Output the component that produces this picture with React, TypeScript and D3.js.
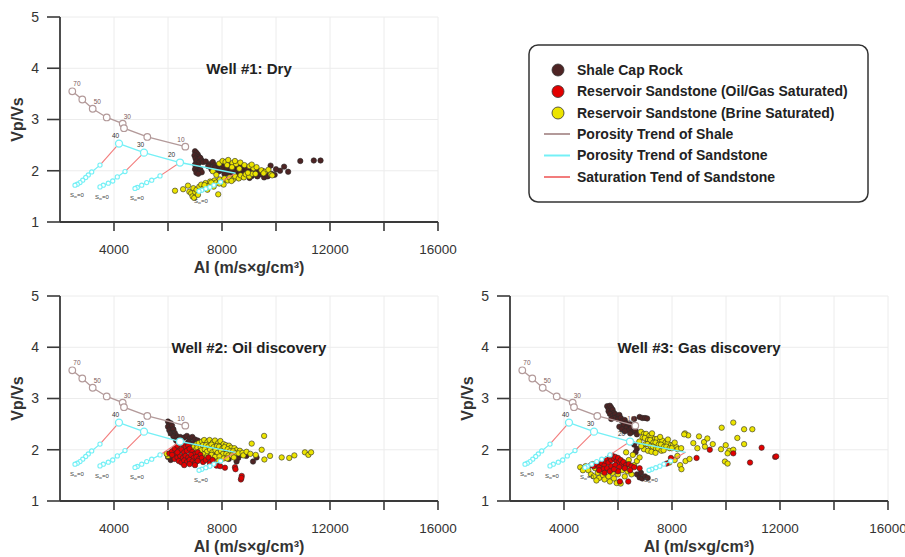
import React from 'react';
import * as d3 from 'd3';

type Pt = [number, number];

// ---- axes ----
const xTicks = [4000, 6000, 8000, 10000, 12000, 14000, 16000];
const xTickLabels = [4000, 8000, 12000, 16000];
const yTicks = [1, 2, 3, 4, 5];

// ---- rock physics templates (same on all wells) ----
const shaleTrend: Pt[] = [
	[2455, 3.55], [2826, 3.39], [3211, 3.21], [3730, 3.04],
	[4322, 2.92], [4370, 2.83], [5233, 2.66], [6641, 2.47],
];
const shaleTrendLabels = [
	{ i: 0, text: '70' }, { i: 2, text: '50' }, { i: 4, text: '30' }, { i: 7, text: '10' },
];
const sandPorosity = ['40', '30', '20', '10'];
const sandTrend: Pt[] = [[4185, 2.53], [5111, 2.353], [6444, 2.16], [8500, 1.95]];
const satTrends: Pt[][] = [
	[[4185, 2.53], [3481, 2.11], [3174, 1.977], [3048, 1.918], [2952, 1.868], [2841, 1.816], [2741, 1.77], [2641, 1.738], [2556, 1.718]],
	[[5111, 2.353], [4407, 1.984], [4122, 1.88], [3952, 1.8], [3789, 1.757], [3604, 1.718], [3481, 1.685]],
	[[6444, 2.16], [5704, 1.9], [5396, 1.816], [5211, 1.77], [5026, 1.718], [4863, 1.674], [4778, 1.655]],
	[[8500, 1.95], [7950, 1.78], [7700, 1.72], [7550, 1.68], [7400, 1.65], [7250, 1.62], [7150, 1.6]],
];

// ---- well #1 ----
const w1Shale: Pt[] = [
	[7000, 2.38], [7050, 2.35], [7100, 2.32], [6980, 2.3], [7080, 2.28], [7150, 2.27], [7020, 2.24], [7100, 2.22],
	[7200, 2.25], [7050, 2.18], [7150, 2.16], [7250, 2.2], [7300, 2.17], [7000, 2.12], [7100, 2.1],
	[7000, 2.03], [7080, 2.0], [7150, 1.98], [7050, 1.96], [7200, 2.02], [7250, 1.97], [7120, 1.94],
	[7400, 2.18], [7540, 2.13], [7660, 2.17], [7740, 2.11], [7860, 2.09], [7940, 2.14], [8060, 2.07], [8110, 2.16],
	[8190, 2.04], [8310, 2.11], [8340, 2.01], [8460, 2.07], [8520, 1.98], [8590, 2.05], [8660, 1.96], [8740, 2.02],
	[8810, 1.94], [8890, 2.0], [8960, 1.92], [9040, 1.98], [9110, 1.9], [9190, 1.96], [9310, 1.89], [9360, 1.98],
	[9440, 1.93], [9560, 1.87], [8010, 2.01], [8160, 1.98], [8240, 1.95], [8410, 1.93], [8560, 1.91], [8710, 1.89],
	[7810, 2.04], [7890, 1.99], [7710, 2.06], [8860, 2.07], [9010, 2.04], [9140, 2.01], [9260, 2.03], [9410, 1.98],
	[9610, 1.96], [9690, 1.89], [9800, 2.1], [9840, 1.94], [9950, 1.92], [10150, 2.0], [10300, 2.08], [10450, 1.98],
	[10900, 2.19], [11400, 2.2], [11650, 2.2], [8090, 1.94], [8310, 1.88], [8620, 1.86], [9020, 1.86], [8440, 2.12],
	[8690, 2.1], [8910, 2.05], [7610, 2.03], [7490, 2.09], [9520, 1.99], [10000, 2.03],
];
const w1Oil: Pt[] = [];
const w1Brine: Pt[] = [
	[6260, 1.61], [6560, 1.64], [6740, 1.71], [6790, 1.59], [6860, 1.56], [6910, 1.5], [6940, 1.66], [7010, 1.58],
	[7060, 1.63], [6970, 1.47], [7110, 1.53], [7160, 1.69], [7230, 1.73], [7320, 1.66], [7390, 1.76], [7520, 1.71],
	[7560, 1.79], [7640, 1.74], [7720, 1.81], [7790, 1.77], [7860, 1.54], [7920, 1.83], [8010, 1.79], [8090, 1.85],
	[8210, 1.81], [8280, 1.87], [8410, 1.83], [8490, 1.89], [8620, 1.85], [8690, 1.91], [8810, 1.87], [8880, 1.93],
	[9010, 1.89], [9120, 1.94], [7460, 1.63], [7690, 1.69], [8060, 1.73], [7350, 1.72], [7600, 1.77], [7900, 1.75],
	[8350, 1.8],
	[7900, 2.14], [8020, 2.19], [8130, 2.17], [8230, 2.21], [8390, 2.15], [8520, 2.13], [8680, 2.16], [8830, 2.11],
	[9020, 2.09], [9170, 2.05], [9280, 2.07], [9460, 2.01], [9590, 1.98], [9720, 2.02], [9810, 1.93], [8190, 2.11],
	[8370, 2.07], [8640, 2.04], [8960, 1.96], [9240, 1.94], [9540, 1.95], [9860, 1.91], [7660, 1.99], [7790, 1.92],
	[8480, 2.19], [9100, 2.12],
];

// ---- well #2 ----
const w2Shale: Pt[] = [
	[6000, 2.55], [6050, 2.5], [6100, 2.52], [6000, 2.45], [6080, 2.42], [6150, 2.47], [6050, 2.38], [6150, 2.36],
	[6200, 2.4], [6100, 2.32], [6250, 2.33], [6300, 2.28], [6200, 2.26], [6350, 2.24], [6400, 2.2], [6300, 2.18],
	[6450, 2.25], [6600, 2.24], [6700, 2.27], [6800, 2.22], [6900, 2.25], [7000, 2.2], [7100, 2.18], [6750, 2.15],
	[6900, 2.13], [7050, 2.1], [7200, 2.12], [7300, 2.08], [6650, 2.1], [7500, 2.02], [7800, 1.98], [8100, 1.95],
	[8400, 1.93], [8600, 1.84], [8700, 1.9], [8900, 1.88], [9150, 1.77], [9280, 1.85], [8540, 1.77], [6000, 1.86],
	[6100, 1.8], [7400, 1.88], [8000, 1.85], [8250, 1.82], [7700, 1.9],
];
const w2Oil: Pt[] = [
	[6050, 1.93], [6150, 1.97], [6250, 2.02], [6350, 2.08], [6450, 2.12], [6550, 2.1], [6650, 2.05], [6750, 2.08],
	[6200, 1.88], [6300, 1.92], [6400, 1.98], [6500, 2.0], [6600, 1.95], [6700, 1.98], [6800, 2.02], [6900, 1.96],
	[7000, 1.92], [7100, 1.95], [7200, 1.9], [6250, 1.82], [6350, 1.85], [6450, 1.88], [6550, 1.84], [6650, 1.88],
	[6750, 1.85], [6850, 1.9], [6950, 1.84], [7050, 1.86], [7150, 1.82], [7250, 1.84], [6400, 1.78], [6500, 1.75],
	[6600, 1.79], [6700, 1.76], [6800, 1.8], [6900, 1.77], [7000, 1.74], [7100, 1.78], [7300, 1.76], [7400, 1.8],
	[6600, 1.7], [6800, 1.72], [7000, 1.7], [7550, 1.74], [7800, 1.69], [7930, 1.68], [8110, 1.65], [8480, 1.66],
	[8500, 1.62], [8730, 1.49], [8700, 1.42], [8720, 1.45], [6150, 1.9], [6350, 1.95], [7500, 1.85], [7650, 1.8],
];
const w2Brine: Pt[] = [
	[6950, 2.05], [7060, 2.11], [7140, 2.13], [7260, 2.16], [7340, 2.19], [7460, 2.15], [7540, 2.19], [7660, 2.14],
	[7740, 2.18], [7860, 2.13], [7940, 2.17], [8060, 2.11], [8140, 2.09], [8260, 2.08], [8340, 2.04], [8460, 2.03],
	[8540, 1.99], [8660, 1.98], [7010, 1.99], [7090, 2.04], [7210, 2.05], [7290, 2.09], [7410, 2.09], [7490, 2.06],
	[7610, 2.1], [7690, 2.05], [7810, 2.07], [7890, 2.06], [8010, 2.02], [8090, 2.05], [8210, 2.01], [8290, 1.97],
	[8410, 1.97], [8490, 1.93], [8610, 1.93], [8760, 1.94], [7160, 1.96], [7240, 1.99], [7360, 2.01], [7440, 1.96],
	[7560, 2.0], [7640, 1.95], [7760, 1.99], [7840, 1.94], [7960, 1.98], [8040, 1.92], [8160, 1.92], [8240, 1.89],
	[8360, 1.89], [8440, 1.85], [7310, 1.91], [7440, 1.87], [7610, 1.9], [7740, 1.86], [7910, 1.87], [8060, 1.83],
	[8190, 1.83], [7410, 1.83], [7660, 1.79], [7890, 1.79], [8790, 1.89], [8910, 1.96],
	[9100, 2.12], [9560, 2.27], [9470, 2.0], [9780, 1.88], [9570, 1.81], [10210, 1.85], [10490, 1.84], [10680, 1.89],
	[11070, 1.95], [11200, 1.9], [11300, 1.95], [9050, 1.92], [9250, 1.9], [6000, 1.88], [5950, 1.92],
];

// ---- well #3 ----
const w3Shale: Pt[] = [
	[5600, 2.85], [5650, 2.8], [5700, 2.86], [5750, 2.82], [5650, 2.75], [5750, 2.74], [5800, 2.78], [5850, 2.72],
	[5700, 2.7], [5800, 2.66], [5900, 2.69], [5950, 2.64], [5850, 2.62], [6000, 2.6], [5750, 2.6], [6050, 2.68],
	[6100, 2.62], [6150, 2.56], [6250, 2.58], [6300, 2.52], [6200, 2.48], [6350, 2.46], [6450, 2.5], [6300, 2.42],
	[6400, 2.38], [6500, 2.42], [6550, 2.35], [6600, 2.45], [6450, 2.32], [6650, 2.38], [6700, 2.3], [6050, 2.45],
	[6150, 2.4], [6250, 2.36], [6800, 2.64], [6900, 2.62], [7000, 2.62], [7080, 2.61], [6600, 2.6],
	[6700, 1.52], [6800, 1.46], [6900, 1.44], [7000, 1.48], [7100, 1.45], [6850, 1.55],
	[6600, 2.1], [6700, 2.02], [6650, 1.95],
];
const w3Gas: Pt[] = [
	[5000, 1.7], [5100, 1.68], [5200, 1.72], [5300, 1.66], [5400, 1.74], [5500, 1.7], [5550, 1.78], [5600, 1.82],
	[5650, 1.75], [5700, 1.86], [5750, 1.8], [5800, 1.88], [5850, 1.83], [5900, 1.86], [5950, 1.78], [6000, 1.84],
	[6050, 1.76], [6100, 1.8], [6150, 1.72], [6200, 1.76], [6300, 1.7], [6400, 1.72], [6500, 1.68], [6600, 1.66],
	[5450, 1.62], [5600, 1.64], [5750, 1.68], [5900, 1.7], [6050, 1.66], [6250, 1.64], [5300, 1.6], [5700, 1.58],
	[6000, 1.58], [5500, 1.55], [5850, 1.62], [6450, 1.6], [6800, 1.64],
	[6070, 1.38], [6380, 1.38], [7800, 1.73], [7960, 1.84], [8910, 1.84], [9400, 2.0], [10270, 1.93], [10890, 1.75],
	[11320, 2.04], [11820, 1.86], [11860, 1.87],
];
const w3Brine: Pt[] = [
	[6850, 2.35], [6960, 2.31], [7040, 2.31], [7160, 2.27], [7240, 2.26], [7360, 2.21], [7440, 2.21], [7560, 2.17],
	[7640, 2.18], [7760, 2.14], [7840, 2.13], [7960, 2.09], [8040, 2.09], [8160, 2.05], [6910, 2.24], [6990, 2.23],
	[7110, 2.19], [7190, 2.19], [7310, 2.14], [7390, 2.14], [7510, 2.1], [7590, 2.1], [7710, 2.06], [7790, 2.06],
	[7910, 2.03], [7990, 2.03], [8210, 2.01], [7010, 2.11], [7090, 2.11], [7210, 2.07], [7290, 2.06], [7410, 2.02],
	[7490, 2.02], [7610, 1.98], [7690, 1.99], [6960, 2.01], [7110, 1.98], [7240, 1.96], [7390, 1.94], [6790, 2.16],
	[6860, 2.07], [8340, 2.03], [8480, 2.32], [8600, 2.28], [7560, 2.25], [7260, 2.32], [7850, 2.2], [8100, 2.14],
	[4600, 1.66], [4800, 1.68], [4900, 1.6], [5000, 1.52], [5100, 1.48], [5150, 1.64], [5250, 1.55], [5300, 1.45],
	[5400, 1.58], [5450, 1.5], [5500, 1.42], [5600, 1.62], [5650, 1.48], [5700, 1.38], [5800, 1.55], [5850, 1.44],
	[5950, 1.35], [6000, 1.52], [6100, 1.34], [6150, 1.6], [6250, 1.48], [6350, 1.58], [6450, 1.65], [6500, 1.52],
	[6600, 1.7], [6700, 1.78], [6800, 1.85], [6400, 1.8], [6250, 1.72], [5350, 1.7], [5050, 1.72], [4700, 1.6],
	[5200, 1.4], [6550, 1.9], [6300, 1.95],
	[7900, 1.75], [8100, 1.8], [8300, 1.7], [8500, 1.78], [8650, 1.82], [8350, 1.62], [8200, 1.88],
	[8790, 2.13], [9000, 2.26], [9185, 2.15], [9310, 2.22], [9510, 2.11], [8940, 2.03], [9220, 2.06], [9815, 2.01],
	[9990, 2.09], [10120, 1.98], [10060, 1.93], [10270, 2.0], [9960, 1.77], [10060, 1.73], [9840, 2.43], [10270, 2.53],
	[10670, 2.4], [10975, 2.4], [10420, 2.23], [10670, 2.11], [8450, 2.3],
];

const C = {
	shale: '#4e2424',
	oil: '#e30000',
	brine: '#ece400',
	shaleLine: '#b39a9a',
	sandLine: '#74f0f6',
	satLine: '#f27c7c',
	axis: '#3a3a3a',
	grid: '#ececec',
};
const FONT = '"Liberation Sans", Arial, sans-serif';

type PanelProps = {
	x0: number; y0: number; title: string;
	shale: Pt[]; oil: Pt[]; brine: Pt[];
};

const Panel = ({ x0, y0, title, shale, oil, brine }: PanelProps) => {
	const x = d3.scaleLinear().domain([2000, 16000]).range([x0, x0 + 378]);
	const y = d3.scaleLinear().domain([1, 5]).range([y0 + 205, y0]);
	const line = d3.line<Pt>().x((d) => x(d[0])).y((d) => y(d[1]));
	const dots = (pts: Pt[], fill: string, key: string) => pts.map((d, i) => (
		<circle key={ key + i } cx={ x(d[0]) } cy={ y(d[1]) } r={ 2.7 } fill={ fill } stroke="#2a2a2a" strokeWidth={ 0.6 }/>
	));
	const last = (a: Pt[]) => a[a.length - 1];

	return (
		<g>
			{ xTicks.map((t) => <line key={ 'gx' + t } x1={ x(t) } x2={ x(t) } y1={ y(1) } y2={ y(5) } stroke={ C.grid }/>) }
			{ yTicks.slice(1).map((t) => <line key={ 'gy' + t } x1={ x(2000) } x2={ x(16000) } y1={ y(t) } y2={ y(t) } stroke={ C.grid }/>) }

			{ dots(shale, C.shale, 's') }
			{ dots(brine, C.brine, 'b') }
			{ dots(oil, C.oil, 'o') }

			{/* shale porosity trend */}
			<path d={ line(shaleTrend) ?? '' } fill="none" stroke={ C.shaleLine } strokeWidth={ 1.3 }/>
			{ shaleTrend.map((d, i) => <circle key={ 'st' + i } cx={ x(d[0]) } cy={ y(d[1]) } r={ 3.3 } fill="white" stroke={ C.shaleLine } strokeWidth={ 1.2 }/>) }
			{ shaleTrendLabels.map((l) => (
				<text key={ 'sl' + l.i } x={ x(shaleTrend[l.i][0]) + (l.i === 7 ? -8 : 1) } y={ y(shaleTrend[l.i][1]) - 5 }
					fontSize={ 6.5 } fill="#7a5a5a" fontFamily={ FONT }>{ l.text }</text>
			)) }

			{/* sandstone saturation trends */}
			{ satTrends.map((tr, k) => (
				<g key={ 'sat' + k }>
					<path d={ line(tr.slice(0, 2)) ?? '' } fill="none" stroke={ C.satLine } strokeWidth={ 1.1 }/>
					<path d={ line(tr.slice(1)) ?? '' } fill="none" stroke={ C.sandLine } strokeWidth={ 1.2 }/>
					{ tr.slice(1).map((d, i) => <circle key={ i } cx={ x(d[0]) } cy={ y(d[1]) } r={ 2.1 } fill="white" stroke={ C.sandLine } strokeWidth={ 1.1 }/>) }
					<text x={ x(last(tr)[0]) - 5 } y={ y(last(tr)[1]) + 12 } fontSize={ 6 } fill="#444" fontFamily={ FONT }>
						S<tspan fontSize={ 4 } dy={ 1 }>w</tspan><tspan dy={ -1 }>=0</tspan>
					</text>
				</g>
			)) }

			{/* sandstone porosity trend */}
			<path d={ line(sandTrend) ?? '' } fill="none" stroke={ C.sandLine } strokeWidth={ 1.4 }/>
			{ sandTrend.slice(0, 3).map((d, i) => (
				<g key={ 'sp' + i }>
					<circle cx={ x(d[0]) } cy={ y(d[1]) } r={ 3.5 } fill="white" stroke={ C.sandLine } strokeWidth={ 1.3 }/>
					<text x={ x(d[0]) - (i === 2 ? 12 : 7) } y={ y(d[1]) - 6 } fontSize={ 6.5 } fill="#333" fontFamily={ FONT }>{ sandPorosity[i] }</text>
				</g>
			)) }

			{/* axes */}
			<line x1={ x(2000) } x2={ x(2000) } y1={ y(5) } y2={ y(1) } stroke={ C.axis } strokeWidth={ 1.8 }/>
			<line x1={ x(2000) } x2={ x(16000) } y1={ y(1) } y2={ y(1) } stroke={ C.axis } strokeWidth={ 1.8 }/>
			{ yTicks.map((t) => (
				<g key={ 'yt' + t }>
					<line x1={ x0 - 13 } x2={ x0 } y1={ y(t) } y2={ y(t) } stroke={ C.axis } strokeWidth={ 1.6 }/>
					<text x={ x0 - 21 } y={ y(t) } dy="0.35em" textAnchor="end" fontSize={ 14 } fill="#333" fontFamily={ FONT }>{ t }</text>
				</g>
			)) }
			{ xTicks.map((t) => <line key={ 'xt' + t } x1={ x(t) } x2={ x(t) } y1={ y(1) } y2={ y(1) + 9 } stroke={ C.axis } strokeWidth={ 1.6 }/>) }
			{ xTickLabels.map((t) => (
				<text key={ 'xl' + t } x={ x(t) } y={ y(1) + 32 } textAnchor="middle" fontSize={ 13.5 } fill="#333" fontFamily={ FONT }>{ t }</text>
			)) }
			<text x={ x(9000) } y={ y(1) + 51 } textAnchor="middle" fontSize={ 16 } fontWeight="bold" fill="#333" fontFamily={ FONT }>
				AI (m/s×g/cm³)
			</text>
			<text transform={ `translate(${ x0 - 37 },${ y(3) }) rotate(-90)` } textAnchor="middle" fontSize={ 16 } fontWeight="bold" fill="#333" fontFamily={ FONT }>Vp/Vs</text>
			<text x={ x(9000) } y={ y(4) + 6 } textAnchor="middle" fontSize={ 15 } fontWeight="bold" fill="#222" fontFamily={ FONT }>{ title }</text>
		</g>
	);
};

const legendDots = [
	{ label: 'Shale Cap Rock', color: C.shale },
	{ label: 'Reservoir Sandstone (Oil/Gas Saturated)', color: C.oil },
	{ label: 'Reservoir Sandstone (Brine Saturated)', color: C.brine },
];
const legendLines = [
	{ label: 'Porosity Trend of Shale', color: C.shaleLine },
	{ label: 'Porosity Trend of Sandstone', color: C.sandLine },
	{ label: 'Saturation Tend of Sandstone', color: C.satLine },
];

const Legend = () => (
	<g fontFamily={ FONT } fontSize={ 14 } fontWeight="bold" fill="#222">
		<rect x={ 529 } y={ 45 } width={ 339 } height={ 157 } rx={ 9 } fill="white" stroke="#333" strokeWidth={ 1.5 }/>
		{ legendDots.map((d, i) => (
			<g key={ d.label }>
				<circle cx={ 558 } cy={ 70 + i * 21.5 } r={ 6 } fill={ d.color } stroke="#333" strokeWidth={ 0.8 }/>
				<text x={ 577 } y={ 70 + i * 21.5 } dy="0.35em">{ d.label }</text>
			</g>
		)) }
		{ legendLines.map((d, i) => (
			<g key={ d.label }>
				<line x1={ 544 } x2={ 570 } y1={ 134 + i * 21.5 } y2={ 134 + i * 21.5 } stroke={ d.color } strokeWidth={ 2 }/>
				<text x={ 577 } y={ 134 + i * 21.5 } dy="0.35em">{ d.label }</text>
			</g>
		)) }
	</g>
);

const App = () => (
	<svg width={ 905 } height={ 557 } style={ { position: 'absolute', left: 0, top: 0, background: 'white' } }>
		<Panel x0={ 60 } y0={ 17 } title="Well #1: Dry" shale={ w1Shale } oil={ w1Oil } brine={ w1Brine }/>
		<Panel x0={ 60 } y0={ 296 } title="Well #2: Oil discovery" shale={ w2Shale } oil={ w2Oil } brine={ w2Brine }/>
		<Panel x0={ 510 } y0={ 296 } title="Well #3: Gas discovery" shale={ w3Shale } oil={ w3Gas } brine={ w3Brine }/>
		<Legend/>
	</svg>
);

export default App;
